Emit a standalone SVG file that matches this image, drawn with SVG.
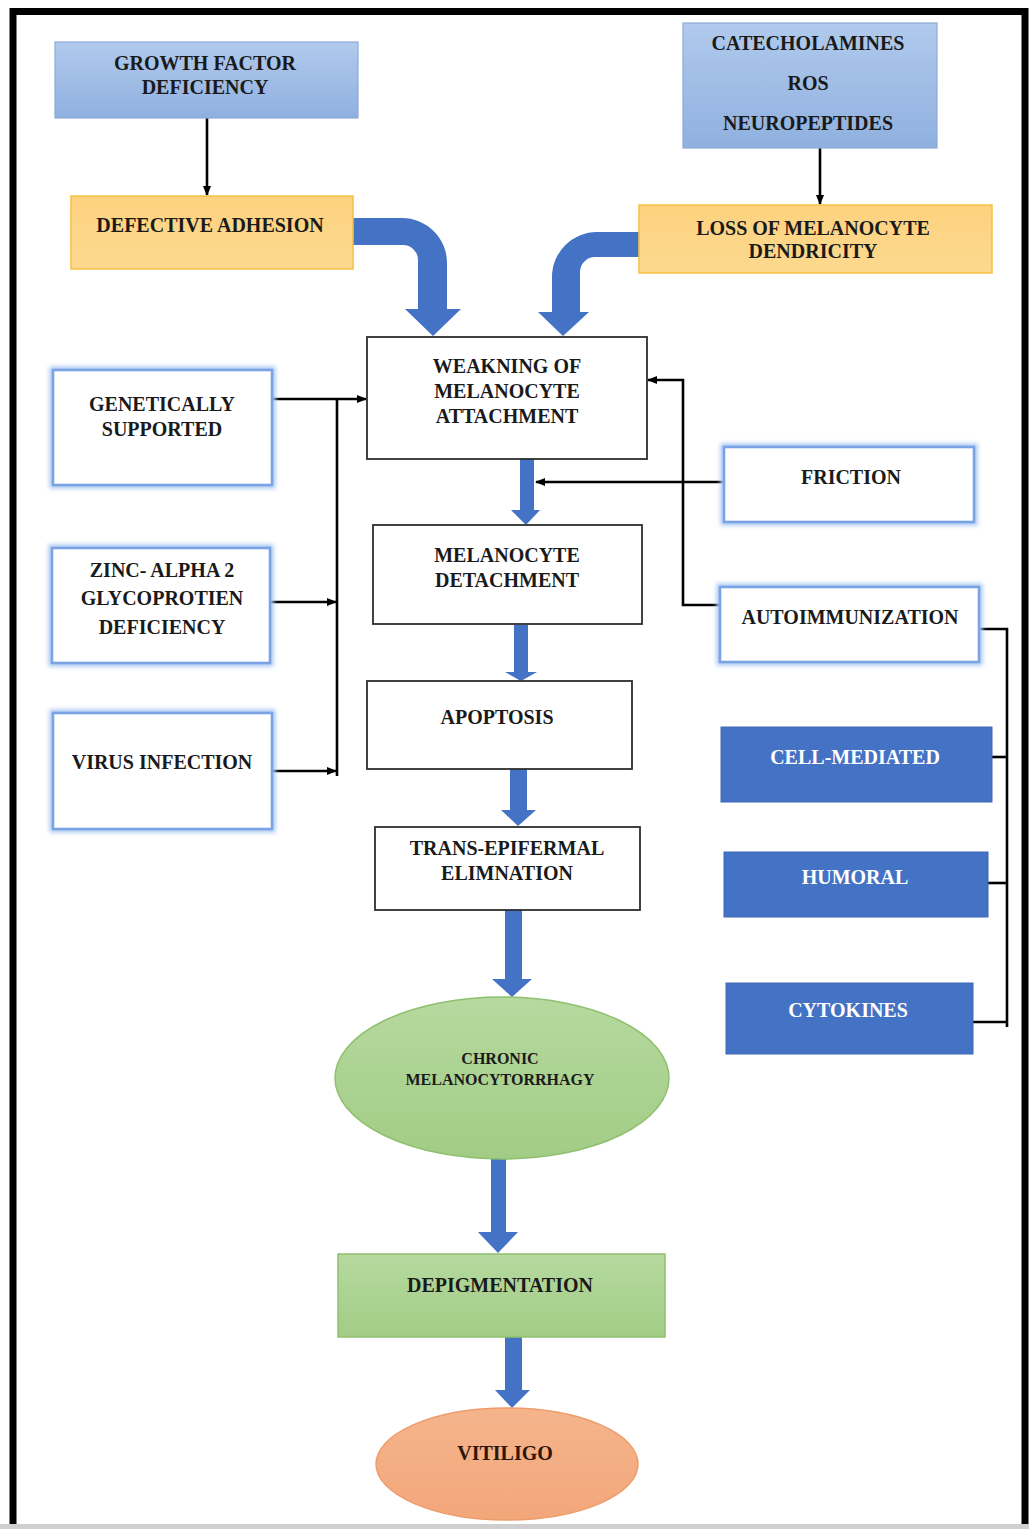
<svg xmlns="http://www.w3.org/2000/svg" width="1029" height="1529" viewBox="0 0 1029 1529">
<defs>
<linearGradient id="gBlue" x1="0" y1="0" x2="0" y2="1"><stop offset="0" stop-color="#b1caed"/><stop offset="1" stop-color="#8fb0df"/></linearGradient>
<linearGradient id="gOrange" x1="0" y1="0" x2="0" y2="1"><stop offset="0" stop-color="#fdd27f"/><stop offset="1" stop-color="#fcd98f"/></linearGradient>
<linearGradient id="gGreen" x1="0" y1="0" x2="0" y2="1"><stop offset="0" stop-color="#b6d99f"/><stop offset="1" stop-color="#a2cc86"/></linearGradient>
<linearGradient id="gSalmon" x1="0" y1="0" x2="0" y2="1"><stop offset="0" stop-color="#f5b48c"/><stop offset="1" stop-color="#f2a77a"/></linearGradient>
<filter id="glow" x="-10%" y="-20%" width="120%" height="140%"><feGaussianBlur stdDeviation="2.2"/></filter>
<marker id="ah" viewBox="0 0 10 10" refX="9" refY="5" markerWidth="4" markerHeight="4" orient="auto" markerUnits="strokeWidth"><path d="M0,1 L10,5 L0,9 Z" fill="#000"/></marker>
<style>
.t{font-family:"Liberation Serif","Times New Roman",serif;font-weight:bold;font-size:20px;fill:#1a1a1a;text-anchor:middle}
.tw{fill:#ffffff}
.ts{font-size:16px}
.box{fill:#ffffff;stroke:#2e2e2e;stroke-width:1.8}
.topblue{fill:url(#gBlue);stroke:#8eaad8;stroke-width:1.2}
.orange{fill:url(#gOrange);stroke:#f6c146;stroke-width:1.5}
.halo{fill:none;stroke:#a9c8f4;stroke-width:7;filter:url(#glow)}
.gbox{fill:#ffffff;stroke:#7aa3e4;stroke-width:2.6}
.dblue{fill:#4472c4;stroke:#3d68b6;stroke-width:1}
.green{fill:url(#gGreen);stroke:#8fc06e;stroke-width:1.5}
.salmon{fill:url(#gSalmon);stroke:#ee9c6b;stroke-width:1.5}
.ln{fill:none;stroke:#000;stroke-width:2.6}
.barrow{fill:#4472c4}
</style>
</defs>

<rect x="0" y="0" width="1029" height="1529" fill="#ffffff"/>
<rect x="0" y="1524" width="1029" height="5" fill="#cfcfcf"/>
<path d="M13,1524 V11.5 H1025 V1524" fill="none" stroke="#000" stroke-width="7"/>

<g id="connectors">
  <path class="ln" d="M207,118 V195" marker-end="url(#ah)"/>
  <path class="ln" d="M820,148 V204" marker-end="url(#ah)"/>
  <path class="barrow" d="M353,218 H402 A45,45 0 0 1 447,263 V309 H461 L433,336 L405,309 H418 V260 A15,15 0 0 0 403,245 H353 Z"/>
  <path class="barrow" d="M640,232 H597 A45,45 0 0 0 552,277 V312 H538 L563,336 L589,312 H580 V272 A15,15 0 0 1 595,257 H640 Z"/>
  <path class="ln" d="M272,399 H366" marker-end="url(#ah)"/>
  <path class="ln" d="M337,399 V776"/>
  <path class="ln" d="M270,602 H336" marker-end="url(#ah)"/>
  <path class="ln" d="M272,771 H336" marker-end="url(#ah)"/>
  <path class="barrow" d="M520,459 H534 V510 H540 L526,525 L511,510 H520 Z"/>
  <path class="ln" d="M725,482 H536" marker-end="url(#ah)"/>
  <path class="ln" d="M720,605 H683 V380 H648" marker-end="url(#ah)"/>
  <path class="ln" d="M979,629 H1007 V1027"/>
  <path class="ln" d="M992,757 H1007"/>
  <path class="ln" d="M988,883 H1007"/>
  <path class="ln" d="M973,1022 H1007"/>
  <path class="barrow" d="M514,625 H528 V672 H537 L521,681 L505,672 H514 Z"/>
  <path class="barrow" d="M510,769 H527 V810 H536 L518,826 L501,810 H510 Z"/>
  <path class="barrow" d="M505,910 H522 V979 H532 L512,997 L492,979 H505 Z"/>
  <path class="barrow" d="M491,1158 H506 V1232 H518 L498,1253 L478,1232 H491 Z"/>
  <path class="barrow" d="M505,1337 H522 V1390 H530 L512,1408 L495,1390 H505 Z"/>
</g>

<g id="growth-factor">
  <rect class="topblue" x="55" y="42" width="303" height="76"/>
  <text class="t" x="205" y="70">GROWTH FACTOR</text>
  <text class="t" x="205" y="94">DEFICIENCY</text>
</g>
<g id="catecholamines">
  <rect class="topblue" x="683" y="23" width="254" height="125"/>
  <text class="t" x="808" y="50">CATECHOLAMINES</text>
  <text class="t" x="808" y="90">ROS</text>
  <text class="t" x="808" y="130">NEUROPEPTIDES</text>
</g>
<g id="defective-adhesion">
  <rect class="orange" x="71" y="196" width="282" height="73"/>
  <text class="t" x="210" y="232">DEFECTIVE ADHESION</text>
</g>
<g id="loss-dendricity">
  <rect class="orange" x="639" y="205" width="353" height="68"/>
  <text class="t" x="813" y="235">LOSS OF MELANOCYTE</text>
  <text class="t" x="813" y="258">DENDRICITY</text>
</g>
<g id="weakening">
  <rect class="box" x="367" y="337" width="280" height="122"/>
  <text class="t" x="507" y="373">WEAKNING OF</text>
  <text class="t" x="507" y="398">MELANOCYTE</text>
  <text class="t" x="507" y="423">ATTACHMENT</text>
</g>
<g id="genetically">
  <rect class="halo" x="53" y="370" width="219" height="115"/>
  <rect class="gbox" x="53" y="370" width="219" height="115"/>
  <text class="t" x="162" y="411">GENETICALLY</text>
  <text class="t" x="162" y="436">SUPPORTED</text>
</g>
<g id="zinc">
  <rect class="halo" x="52" y="548" width="218" height="115"/>
  <rect class="gbox" x="52" y="548" width="218" height="115"/>
  <text class="t" x="162" y="577">ZINC- ALPHA 2</text>
  <text class="t" x="162" y="605">GLYCOPROTIEN</text>
  <text class="t" x="162" y="634">DEFICIENCY</text>
</g>
<g id="virus">
  <rect class="halo" x="53" y="713" width="219" height="116"/>
  <rect class="gbox" x="53" y="713" width="219" height="116"/>
  <text class="t" x="162" y="769">VIRUS INFECTION</text>
</g>
<g id="friction">
  <rect class="halo" x="724" y="447" width="250" height="75"/>
  <rect class="gbox" x="724" y="447" width="250" height="75"/>
  <text class="t" x="851" y="484">FRICTION</text>
</g>
<g id="autoimmunization">
  <rect class="halo" x="720" y="587" width="259" height="75"/>
  <rect class="gbox" x="720" y="587" width="259" height="75"/>
  <text class="t" x="850" y="624">AUTOIMMUNIZATION</text>
</g>
<g id="detachment">
  <rect class="box" x="373" y="525" width="269" height="99"/>
  <text class="t" x="507" y="562">MELANOCYTE</text>
  <text class="t" x="507" y="587">DETACHMENT</text>
</g>
<g id="apoptosis">
  <rect class="box" x="367" y="681" width="265" height="88"/>
  <text class="t" x="497" y="724">APOPTOSIS</text>
</g>
<g id="trans-epidermal">
  <rect class="box" x="375" y="827" width="265" height="83"/>
  <text class="t" x="507" y="855">TRANS-EPIFERMAL</text>
  <text class="t" x="507" y="880">ELIMNATION</text>
</g>
<g id="cell-mediated">
  <rect class="dblue" x="721" y="727" width="271" height="75"/>
  <text class="t tw" x="855" y="764">CELL-MEDIATED</text>
</g>
<g id="humoral">
  <rect class="dblue" x="724" y="852" width="264" height="65"/>
  <text class="t tw" x="855" y="884">HUMORAL</text>
</g>
<g id="cytokines">
  <rect class="dblue" x="726" y="983" width="247" height="71"/>
  <text class="t tw" x="848" y="1017">CYTOKINES</text>
</g>
<g id="chronic">
  <ellipse class="green" cx="502" cy="1078" rx="167" ry="81"/>
  <text class="t ts" x="500" y="1064" fill="#1e2e14">CHRONIC</text>
  <text class="t ts" x="500" y="1085">MELANOCYTORRHAGY</text>
</g>
<g id="depigmentation">
  <rect class="green" x="338" y="1254" width="327" height="83"/>
  <text class="t" x="500" y="1292">DEPIGMENTATION</text>
</g>
<g id="vitiligo">
  <ellipse class="salmon" cx="507" cy="1464" rx="131" ry="56"/>
  <text class="t" x="505" y="1460" style="fill:#2e1608">VITILIGO</text>
</g>
</svg>
